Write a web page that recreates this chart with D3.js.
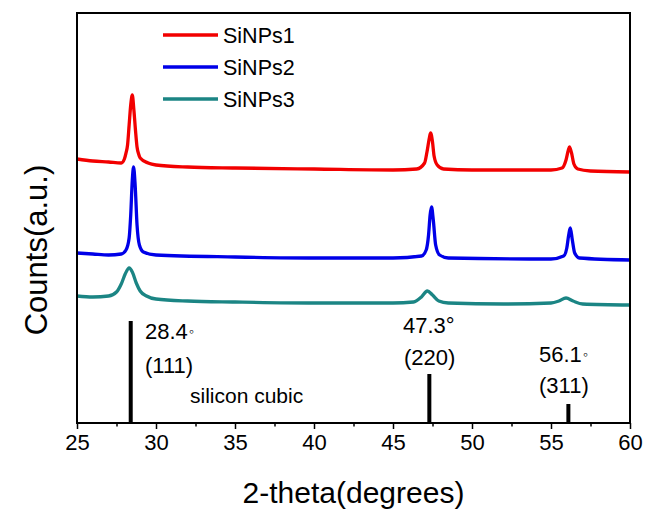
<!DOCTYPE html>
<html><head><meta charset="utf-8">
<script src="https://cdn.jsdelivr.net/npm/d3@7"></script>
<style>body{margin:0;background:#fff}svg{display:block}text{font-family:Arial,"Liberation Sans",sans-serif;fill:#000}</style>
</head><body><svg id="c" width="646" height="510"></svg>
<script>
// ---- data (2-theta in degrees, counts in a.u., stacked with offsets) ----
const seriesNames = ["SiNPs1", "SiNPs2", "SiNPs3"];
const seriesColors = ["#f20000", "#0000e8", "#1b8584"];
const red2theta = [25,26,27,27.8,28.0,28.1,28.2,28.3,28.4,28.5,28.6,28.7,28.8,28.9,29.0,29.5,30,32,35,40,45,46.5,47.0,47.15,47.3,47.38,47.5,47.6,47.8,48.2,50,55,55.7,55.95,56.1,56.17,56.3,56.45,56.7,57.5,60];
const redCounts = [2640,2620,2610,2600,2640,2700,2780,2980,3180,3280,3130,2930,2760,2690,2650,2600,2580,2560,2550,2540,2530,2540,2600,2710,2850,2900,2810,2670,2580,2540,2530,2530,2550,2630,2730,2760,2700,2590,2540,2520,2510];
const blue2theta = [25,26,27,27.8,28.1,28.3,28.4,28.5,28.58,28.68,28.8,28.95,29.2,30,35,40,45,46.8,47.1,47.25,47.35,47.44,47.55,47.7,47.95,48.5,55,55.8,56.0,56.12,56.22,56.35,56.5,56.8,60];
const blueCounts = [1700,1690,1680,1690,1730,1850,2080,2430,2560,2380,1980,1780,1710,1680,1660,1650,1650,1670,1730,1880,2080,2160,2030,1780,1680,1650,1640,1670,1750,1880,1950,1830,1700,1650,1630];
const teal2theta = [25,26,27,27.5,27.8,28.05,28.3,28.5,28.75,29.0,29.4,30,32,35,40,45,46.3,46.8,47.17,47.5,47.9,48.5,52,55,55.5,55.95,56.4,57,60];
const tealCounts = [1270,1260,1270,1310,1390,1490,1550,1510,1400,1320,1270,1240,1220,1210,1200,1200,1210,1260,1320,1280,1220,1200,1190,1200,1220,1250,1220,1190,1180];
// reference pattern (silicon cubic)
const refPositions = [28.4, 47.3, 56.1];
const refIntensity = [1020, 490, 190];
const refAngleLabels = ["28.4", "47.3", "56.1"];
const refDegreeMarks = ["\u25E6", "\u00B0", "\u25E6"];
const refPlanes = ["(111)", "(220)", "(311)"];
const xTicks = [25,30,35,40,45,50,55,60];
const xMinorTicks = [27.5,32.5,37.5,42.5,47.5,52.5,57.5];

const svg = d3.select("#c");
const L = 77, R = 630, T = 13, B = 423;
const x = d3.scaleLinear().domain([25, 60]).range([L, R]);
const y = d3.scaleLinear().domain([0, 4100]).range([B, T]);

const series = [
  {name: seriesNames[0], color: seriesColors[0], xs: red2theta, ys: redCounts},
  {name: seriesNames[1], color: seriesColors[1], xs: blue2theta, ys: blueCounts},
  {name: seriesNames[2], color: seriesColors[2], xs: teal2theta, ys: tealCounts}
];
const line = d3.line().x(d => x(d[0])).y(d => y(d[1])).curve(d3.curveMonotoneX);
series.forEach(s => {
  svg.append("path").datum(d3.zip(s.xs, s.ys))
    .attr("d", line).attr("fill", "none").attr("stroke", s.color)
    .attr("stroke-width", 3.3).attr("stroke-linejoin", "round");
});

// reference sticks
svg.selectAll("rect.stick").data(refPositions).join("rect").attr("class", "stick")
  .attr("x", d => x(d) - 2).attr("width", 4)
  .attr("y", (d, i) => y(refIntensity[i])).attr("height", (d, i) => y(0) - y(refIntensity[i]))
  .attr("fill", "#000");

// annotations
const annPos = [[145, 339, 145, 373], [403, 333, 404, 365], [539, 362, 539, 393]];
refAngleLabels.forEach((t, i) => {
  const tx = svg.append("text").attr("x", annPos[i][0]).attr("y", annPos[i][1]).attr("font-size", 22);
  tx.append("tspan").text(t);
  if (i === 1) tx.append("tspan").attr("font-size", 22).text(refDegreeMarks[i]);
  else tx.append("tspan").attr("font-size", 14).attr("dy", -3).attr("dx", 1).text(refDegreeMarks[i]);
  svg.append("text").attr("x", annPos[i][2]).attr("y", annPos[i][3]).attr("font-size", 22).text(refPlanes[i]);
});
svg.append("text").attr("x", 190).attr("y", 403).attr("font-size", 21).text("silicon cubic");

// axes
const xAxis = d3.axisBottom(x).tickValues(xTicks).tickSize(6).tickPadding(5).tickFormat(d3.format("d"));
const gx = svg.append("g").attr("transform", `translate(0,${B})`).call(xAxis);
gx.select(".domain").remove();
gx.selectAll("line").attr("stroke", "#000").attr("stroke-width", 1.5);
gx.selectAll("text").attr("font-size", 22).attr("font-family", "Arial, 'Liberation Sans', sans-serif").attr("fill", "#000");
const gxm = svg.append("g").attr("transform", `translate(0,${B})`)
  .call(d3.axisBottom(x).tickValues(xMinorTicks).tickSize(3.5).tickFormat(""));
gxm.select(".domain").remove();
gxm.selectAll("line").attr("stroke", "#000").attr("stroke-width", 1.5);

svg.append("rect").attr("x", L).attr("y", T).attr("width", R - L).attr("height", B - T)
  .attr("fill", "none").attr("stroke", "#000").attr("stroke-width", 2);

// titles
svg.append("text").attr("x", (L + R) / 2).attr("y", 503).attr("text-anchor", "middle")
  .attr("font-size", 30).text("2-theta(degrees)");
svg.append("text").attr("transform", `translate(47,${(T + B) / 2 + 32}) rotate(-90)`)
  .attr("text-anchor", "middle").attr("font-size", 31).text("Counts(a.u.)");

// legend
const legY = [35, 67, 99];
series.forEach((s, i) => {
  svg.append("line").attr("x1", 163).attr("x2", 218).attr("y1", legY[i]).attr("y2", legY[i])
    .attr("stroke", s.color).attr("stroke-width", 3.5);
  svg.append("text").attr("x", 223).attr("y", legY[i] + 7.5).attr("font-size", 21.5).text(s.name);
});
</script></body></html>
